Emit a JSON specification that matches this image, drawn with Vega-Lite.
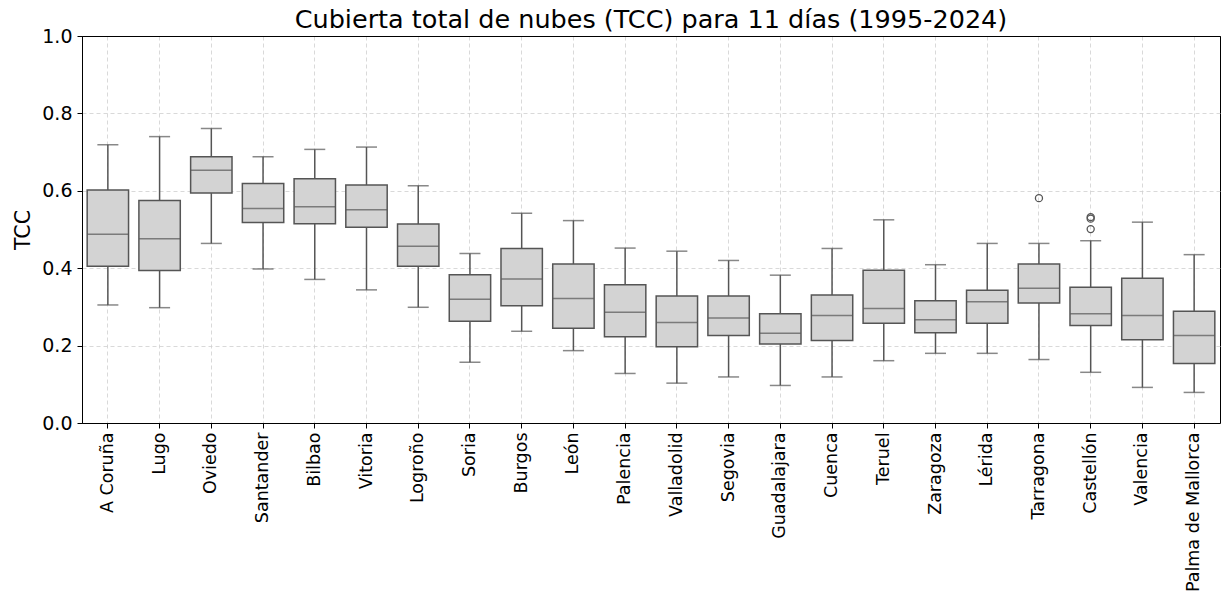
{
  "$schema": "https://vega.github.io/schema/vega-lite/v6.json",
  "width": 1138,
  "height": 387,
  "autosize": {"type": "none"},
  "padding": {"left": 82, "top": 36, "right": 1, "bottom": 171},
  "background": "white",
  "config": {
    "view": {"stroke": "black", "strokeWidth": 1},
    "font": "DejaVu Sans"
  },
  "title": {
    "text": "Cubierta total de nubes (TCC) para 11 días (1995-2024)",
    "fontSize": 25.5,
    "font": "DejaVu Sans",
    "fontWeight": "normal",
    "color": "black",
    "anchor": "middle",
    "baseline": "alphabetic",
    "offset": -26
  },
  "datasets": {
    "stats": [
      {"city": "A Coruña", "lower": 0.305, "q1": 0.405, "median": 0.488, "q3": 0.602, "upper": 0.719},
      {"city": "Lugo", "lower": 0.298, "q1": 0.394, "median": 0.476, "q3": 0.575, "upper": 0.740},
      {"city": "Oviedo", "lower": 0.464, "q1": 0.594, "median": 0.653, "q3": 0.688, "upper": 0.761},
      {"city": "Santander", "lower": 0.398, "q1": 0.518, "median": 0.554, "q3": 0.619, "upper": 0.688},
      {"city": "Bilbao", "lower": 0.371, "q1": 0.515, "median": 0.559, "q3": 0.631, "upper": 0.707},
      {"city": "Vitoria", "lower": 0.344, "q1": 0.506, "median": 0.551, "q3": 0.615, "upper": 0.713},
      {"city": "Logroño", "lower": 0.299, "q1": 0.405, "median": 0.457, "q3": 0.514, "upper": 0.613},
      {"city": "Soria", "lower": 0.157, "q1": 0.263, "median": 0.320, "q3": 0.383, "upper": 0.438},
      {"city": "Burgos", "lower": 0.237, "q1": 0.303, "median": 0.372, "q3": 0.451, "upper": 0.542},
      {"city": "León", "lower": 0.187, "q1": 0.245, "median": 0.322, "q3": 0.411, "upper": 0.523},
      {"city": "Palencia", "lower": 0.128, "q1": 0.223, "median": 0.286, "q3": 0.357, "upper": 0.452},
      {"city": "Valladolid", "lower": 0.103, "q1": 0.197, "median": 0.260, "q3": 0.328, "upper": 0.444},
      {"city": "Segovia", "lower": 0.119, "q1": 0.226, "median": 0.271, "q3": 0.328, "upper": 0.420},
      {"city": "Guadalajara", "lower": 0.097, "q1": 0.204, "median": 0.232, "q3": 0.282, "upper": 0.382},
      {"city": "Cuenca", "lower": 0.119, "q1": 0.213, "median": 0.278, "q3": 0.331, "upper": 0.451},
      {"city": "Teruel", "lower": 0.161, "q1": 0.258, "median": 0.296, "q3": 0.395, "upper": 0.525},
      {"city": "Zaragoza", "lower": 0.180, "q1": 0.233, "median": 0.267, "q3": 0.316, "upper": 0.409},
      {"city": "Lérida", "lower": 0.180, "q1": 0.258, "median": 0.313, "q3": 0.343, "upper": 0.464},
      {"city": "Tarragona", "lower": 0.164, "q1": 0.310, "median": 0.348, "q3": 0.411, "upper": 0.464},
      {"city": "Castellón", "lower": 0.131, "q1": 0.252, "median": 0.282, "q3": 0.351, "upper": 0.471},
      {"city": "Valencia", "lower": 0.092, "q1": 0.215, "median": 0.278, "q3": 0.374, "upper": 0.519},
      {"city": "Palma de Mallorca", "lower": 0.079, "q1": 0.154, "median": 0.226, "q3": 0.289, "upper": 0.435}
    ],
    "outliers": [
      {"city": "Tarragona", "value": 0.581},
      {"city": "Castellón", "value": 0.532},
      {"city": "Castellón", "value": 0.528},
      {"city": "Castellón", "value": 0.501}
    ]
  },
  "encoding": {
    "x": {
      "field": "city",
      "type": "nominal",
      "sort": null,
      "scale": {
        "domain": ["A Coruña", "Lugo", "Oviedo", "Santander", "Bilbao", "Vitoria", "Logroño", "Soria", "Burgos", "León", "Palencia", "Valladolid", "Segovia", "Guadalajara", "Cuenca", "Teruel", "Zaragoza", "Lérida", "Tarragona", "Castellón", "Valencia", "Palma de Mallorca"],
        "paddingInner": 0,
        "paddingOuter": 0
      },
      "axis": {
        "title": null,
        "labelAngle": -90,
        "labelFontSize": 17.5,
        "labelColor": "black",
        "labelFont": "DejaVu Sans",
        "labelPadding": 4,
        "tickSize": 5,
        "tickColor": "black",
        "domainColor": "black",
        "grid": true,
        "gridDash": [4, 3],
        "gridColor": "#cfcfcf",
        "gridWidth": 0.8,
        "bandPosition": 0.5,
        "labelOverlap": false
      }
    }
  },
  "layer": [
    {
      "data": {"name": "stats"},
      "mark": {"type": "rule", "color": "#555555", "strokeWidth": 1.5},
      "encoding": {
        "y": {
          "field": "lower",
          "type": "quantitative",
          "scale": {"domain": [0, 1], "nice": false},
          "axis": {
            "title": "TCC",
            "titleFontSize": 20.5,
            "titleFontWeight": "normal",
            "titleColor": "black",
            "titleFont": "DejaVu Sans",
            "titlePadding": 8,
            "values": [0, 0.2, 0.4, 0.6, 0.8, 1.0],
            "format": ".1f",
            "labelFontSize": 19,
            "labelColor": "black",
            "labelFont": "DejaVu Sans",
            "labelPadding": 5,
            "tickSize": 5,
            "tickColor": "black",
            "domainColor": "black",
            "grid": true,
            "gridDash": {"condition": {"test": "datum.value >= 1", "value": []}, "value": [4, 3]},
            "gridColor": {"condition": {"test": "datum.value >= 1", "value": "black"}, "value": "#cfcfcf"},
            "gridWidth": {"condition": {"test": "datum.value >= 1", "value": 1}, "value": 0.8}
          }
        },
        "y2": {"field": "q1"}
      }
    },
    {
      "data": {"name": "stats"},
      "mark": {"type": "rule", "color": "#555555", "strokeWidth": 1.5},
      "encoding": {
        "y": {"field": "q3", "type": "quantitative"},
        "y2": {"field": "upper"}
      }
    },
    {
      "data": {"name": "stats"},
      "mark": {"type": "tick", "color": "#555555", "thickness": 1.5, "size": 21, "orient": "horizontal"},
      "encoding": {
        "y": {"field": "lower", "type": "quantitative"}
      }
    },
    {
      "data": {"name": "stats"},
      "mark": {"type": "tick", "color": "#555555", "thickness": 1.5, "size": 21, "orient": "horizontal"},
      "encoding": {
        "y": {"field": "upper", "type": "quantitative"}
      }
    },
    {
      "data": {"name": "stats"},
      "mark": {"type": "bar", "fill": "#d3d3d3", "stroke": "#555555", "strokeWidth": 1.5, "width": {"band": 0.8}},
      "encoding": {
        "y": {"field": "q1", "type": "quantitative"},
        "y2": {"field": "q3"}
      }
    },
    {
      "data": {"name": "stats"},
      "mark": {"type": "tick", "color": "#555555", "thickness": 1.5, "size": 41, "orient": "horizontal"},
      "encoding": {
        "y": {"field": "median", "type": "quantitative"}
      }
    },
    {
      "data": {"name": "outliers"},
      "mark": {"type": "point", "filled": false, "stroke": "#555555", "strokeWidth": 1.3, "size": 50, "opacity": 1},
      "encoding": {
        "y": {"field": "value", "type": "quantitative"}
      }
    }
  ]
}
